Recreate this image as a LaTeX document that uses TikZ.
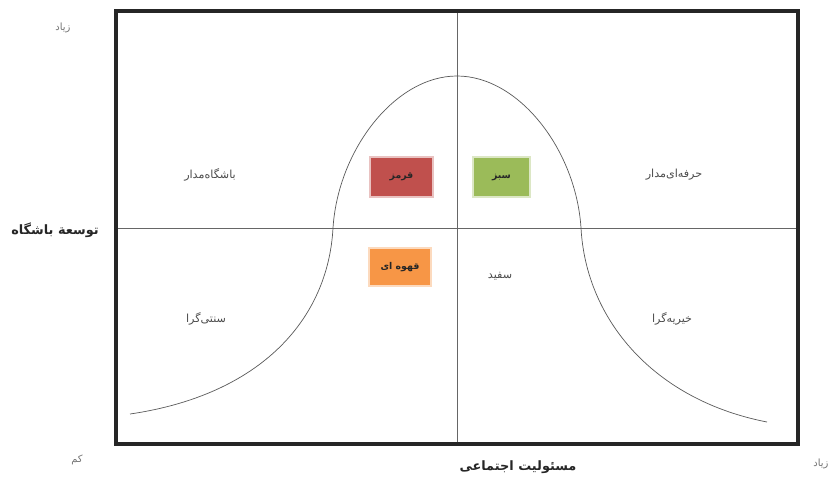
\documentclass[tikz,border=0pt]{standalone}
\usepackage{fontspec}
\usepackage{xcolor}
\usepackage{tikz}
\TeXXeTstate=1
\newfontfamily\persfont[Script=Arabic]{DejaVu Sans}
\definecolor{qred}{HTML}{C0504D}
\definecolor{qgreen}{HTML}{9BBB59}
\definecolor{qorange}{HTML}{F79646}
\tikzset{
  frm/.style={line width=2.8pt,black!85},
  ax/.style={line width=0.6pt,black!60},
  bell/.style={line width=0.6pt,black!65},
  cbox/.style={fill=#1,draw=#1!35,line width=1pt,inner sep=0pt,font=\persfont\fontsize{8}{9}\selectfont\bfseries,text=black!85},
  lbl/.style={font=\persfont\fontsize{9.5}{11}\selectfont,text=black!70},
  ttl/.style={font=\persfont\fontsize{11}{12}\selectfont\bfseries,text=black!85},
  end/.style={font=\persfont\fontsize{8.5}{10}\selectfont,text=black!55}
}
\newcommand{\rtl}[1]{\beginR #1\endR}

\begin{document}
\begin{tikzpicture}[x=0.3mm,y=-0.3mm]
\useasboundingbox (0,0) rectangle (835,483);
\coordinate (tl) at (116,11); \coordinate (br) at (798,444);
\coordinate (top) at (457,11); \coordinate (bot) at (457,444);
\coordinate (lft) at (116,228); \coordinate (rgt) at (798,228);
\draw[ax] (top) -- (bot); \draw[ax] (lft) -- (rgt);
% bell curve
\draw[bell] (130,414) .. controls (260,395) and (328,320) .. (333,228)
  .. controls (338,150) and (395,76) .. (457,76)
  .. controls (519,76) and (576,150) .. (581,228)
  .. controls (586,320) and (654,400) .. (767,422);
\draw[frm] (tl) rectangle (br);
% colour boxes
\node[cbox=qred,minimum width=18.9mm,minimum height=12mm] (red) at (401.5,177) {\rtl{قرمز}};
\node[cbox=qgreen,minimum width=17.1mm,minimum height=12mm] (green) at (501.5,177) {\rtl{سبز}};
\node[cbox=qorange,minimum width=18.6mm,minimum height=11.4mm] (brown) at (400,267) {\rtl{قهوه ای}};
\node[lbl] (white) at (500,276) {\rtl{سفید}};
% quadrant labels
\node[lbl] (clubq) at (210,175) {\rtl{باشگاه‌مدار}};
\node[lbl] (proq) at (674,175) {\rtl{حرفه‌ای‌مدار}};
\node[lbl] (tradq) at (206,319) {\rtl{سنتی‌گرا}};
\node[lbl] (charq) at (672,319) {\rtl{خیریه‌گرا}};
% axes
\node[ttl] (ytitle) at (55,230) {\rtl{توسعة باشگاه}};
\node[ttl] (xtitle) at (518,467) {\rtl{مسئولیت اجتماعی}};
\node[end] (yhigh) at (63,28) {\rtl{زیاد}};
\node[end] (low) at (77,460) {\rtl{کم}};
\node[end] (xhigh) at (821,464) {\rtl{زیاد}};
\end{tikzpicture}
\end{document}
